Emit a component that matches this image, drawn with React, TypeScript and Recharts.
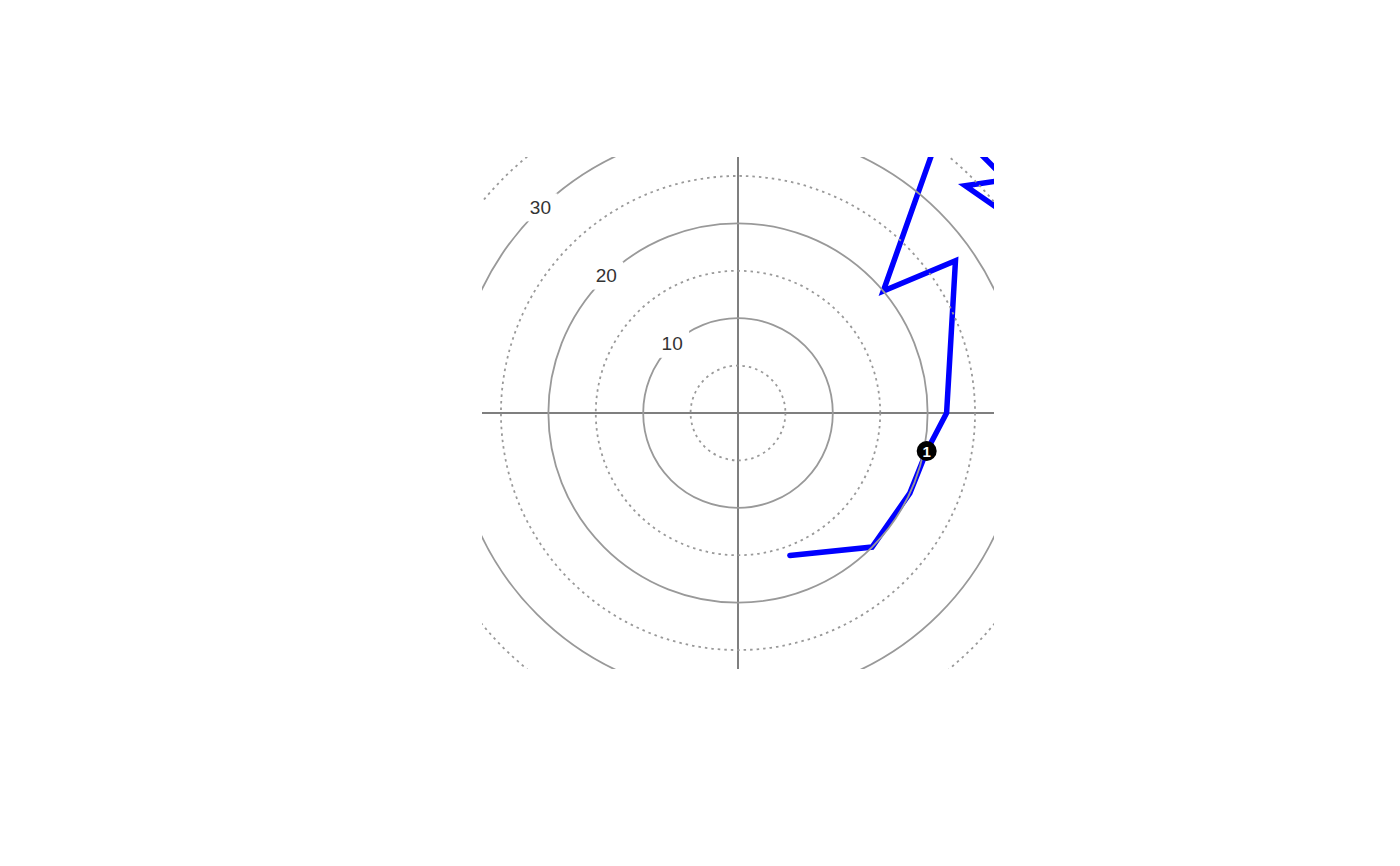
import React from "react";
import {
  ComposedChart,
  Line,
  Scatter,
  XAxis,
  YAxis,
  ReferenceDot,
  ReferenceLine,
} from "recharts";

// trajectory, polar: radius and compass bearing (deg clockwise from north)
const trajR = [16.0, 20.0, 20.0, 20.3, 22.0, 28.0, 20.0, 38.0, 37.5, 33.9, 36.3];
const trajDeg = [160, 135, 115, 101.4, 90, 55, 50, 35, 49, 45, 58];

// numbered marker
const markR = [20.3];
const markDeg = [101.4];
const markText = ["1"];

// grid rings
const solidRings = [10, 20, 30];
const dottedRings = [5, 15, 25, 35];
const ringLabels = [10, 20, 30];
const labelDeg = 316;

const W = 1400;
const H = 866;
const PLOT = 512;
const HALF = 27;
const PX = PLOT / (2 * HALF);

const toXY = (r: number, deg: number) => {
  const a = (deg * Math.PI) / 180;
  return { x: r * Math.sin(a), y: r * Math.cos(a) };
};

const traj = trajR.map((r, i) => toXY(r, trajDeg[i]));
const marks = markR.map((r, i) => ({ ...toXY(r, markDeg[i]), label: markText[i] }));
const labels = ringLabels.map((r) => ({ ...toXY(r, labelDeg), label: String(r) }));

const LabelShape = (p: any) => (
  <g>
    <rect x={p.cx - 17} y={p.cy - 15} width={34} height={28} fill="#fff" />
    <text
      x={p.cx}
      y={p.cy - 1}
      textAnchor="middle"
      dominantBaseline="central"
      fontSize={19}
      fontFamily="'Liberation Sans', Arial, sans-serif"
      fill="#333"
    >
      {p.payload.label}
    </text>
  </g>
);

const MarkShape = (p: any) => (
  <g>
    <circle cx={p.cx} cy={p.cy} r={10} fill="#000" />
    <text
      x={p.cx}
      y={p.cy + 0.5}
      textAnchor="middle"
      dominantBaseline="central"
      fontSize={15}
      fontWeight="bold"
      fontFamily="'Liberation Sans', Arial, sans-serif"
      fill="#fff"
    >
      {p.payload.label}
    </text>
  </g>
);

export default function App() {
  return (
    <div style={{ position: "absolute", left: 0, top: 0, background: "#fff" }}>
      <ComposedChart
        width={W}
        height={H}
        margin={{ left: 482, right: W - 482 - PLOT, top: 157, bottom: H - 157 - PLOT }}
      >
        <XAxis dataKey="x" type="number" domain={[-HALF, HALF]} allowDataOverflow hide />
        <YAxis dataKey="y" type="number" domain={[-HALF, HALF]} allowDataOverflow hide />
        {dottedRings.map((r) => (
          <ReferenceDot
            key={"d" + r}
            x={0}
            y={0}
            r={r * PX}
            fill="none"
            stroke="#999"
            strokeWidth={1.8}
            strokeDasharray="2.5 4"
            ifOverflow="hidden"
          />
        ))}
        {solidRings.map((r) => (
          <ReferenceDot
            key={"s" + r}
            x={0}
            y={0}
            r={r * PX}
            fill="none"
            stroke="#999"
            strokeWidth={1.8}
            ifOverflow="hidden"
          />
        ))}
        <ReferenceLine x={0} stroke="#7f7f7f" strokeWidth={2} />
        <ReferenceLine y={0} stroke="#7f7f7f" strokeWidth={2} />
        <Line
          data={traj}
          dataKey="y"
          type="linear"
          stroke="#0000ff"
          strokeWidth={5.5}
          strokeLinecap="round"
          dot={false}
          activeDot={false}
          isAnimationActive={false}
        />
        <Scatter data={labels} dataKey="y" shape={LabelShape} isAnimationActive={false} />
        <Scatter data={marks} dataKey="y" shape={MarkShape} isAnimationActive={false} />
      </ComposedChart>
    </div>
  );
}
